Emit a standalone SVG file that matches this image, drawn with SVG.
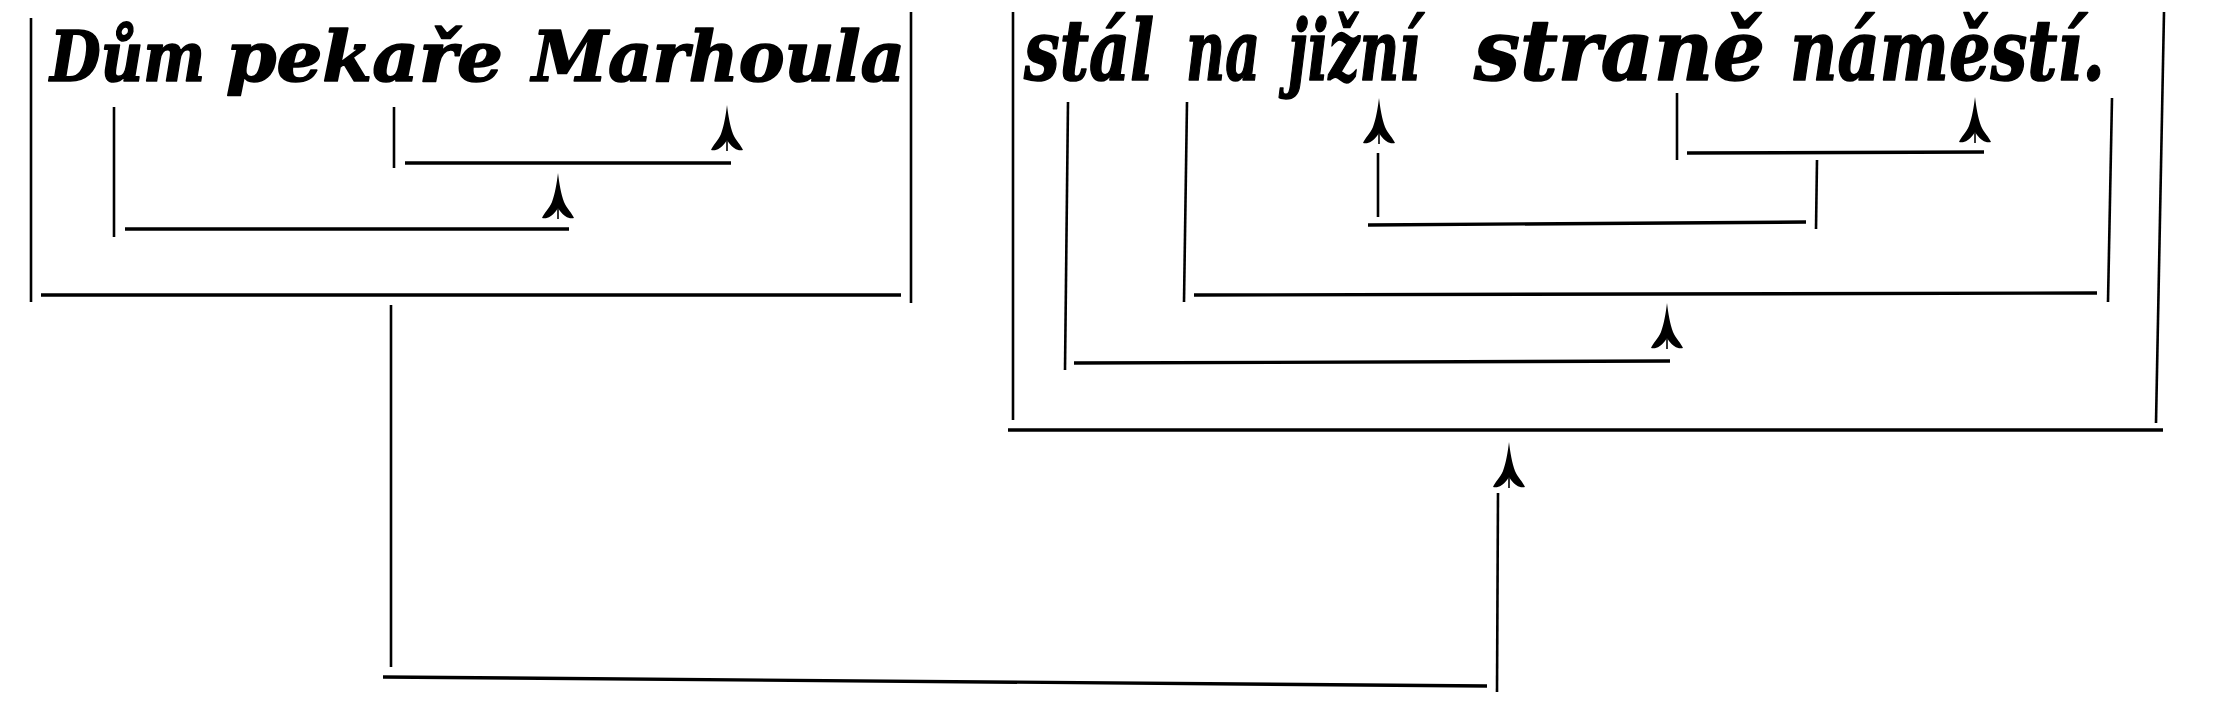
<svg xmlns="http://www.w3.org/2000/svg" width="2221" height="712" viewBox="0 0 2221 712">
<style>
.w{font-family:"DejaVu Serif","Liberation Serif",serif;font-weight:bold;font-style:italic;fill:#000;stroke:#000;stroke-width:1.6;stroke-linejoin:round}
.l1{font-size:70px}
.l2{font-size:84px}
.h{stroke:#000;stroke-width:3.4;fill:none}
.v{stroke:#000;stroke-width:2.6;fill:none}
</style>
<defs>
<g id="arr">
<path d="M0,0 C1.2,10 3,21 6,29 C9,36 14,40 16,45 C11,46.5 6,43 2,38 L0,35 L-2,38 C-6,43 -11,46.5 -16,45 C-14,40 -9,36 -6,29 C-3,21 -1.2,10 0,0 Z" fill="#000"/>
<line x1="0" y1="30" x2="0" y2="46" stroke="#000" stroke-width="1.6"/>
</g>
</defs>
<rect width="2221" height="712" fill="#fff"/>

<g id="node-subject">
<text class="w l1" x="50" y="81" textLength="155" lengthAdjust="spacingAndGlyphs">Dům</text>
<text class="w l1" x="226" y="81" textLength="277" lengthAdjust="spacingAndGlyphs">pekaře</text>
<text class="w l1" x="532" y="81" textLength="373" lengthAdjust="spacingAndGlyphs">Marhoula</text>
<line class="v" x1="31" y1="18" x2="31" y2="302"/>
<line class="v" x1="911" y1="12" x2="911" y2="303"/>
<line class="h" x1="41" y1="295" x2="901" y2="295"/>
</g>

<g id="node-predicate">
<text class="w l2" x="1024" y="80" textLength="130" lengthAdjust="spacingAndGlyphs">stál</text>
<text class="w l2" x="1186" y="80" textLength="74" lengthAdjust="spacingAndGlyphs">na</text>
<text class="w l2" x="1288" y="80" textLength="132" lengthAdjust="spacingAndGlyphs">jižní</text>
<text class="w l2" x="1474" y="80" textLength="291" lengthAdjust="spacingAndGlyphs">straně</text>
<text class="w l2" x="1790" y="80" textLength="315" lengthAdjust="spacingAndGlyphs">náměstí.</text>
<line class="v" x1="1013" y1="12" x2="1013" y2="420"/>
<line class="v" x1="2164" y1="12" x2="2156" y2="423"/>
<line class="h" x1="1008" y1="430" x2="2163" y2="430"/>
</g>

<g id="connectors">
<!-- left group -->
<line class="v" x1="114" y1="107" x2="114" y2="237"/>
<line class="h" x1="125" y1="229" x2="569" y2="229"/>
<use href="#arr" x="558" y="173"/>
<line class="v" x1="394" y1="107" x2="394" y2="168"/>
<line class="h" x1="405" y1="163" x2="731" y2="163"/>
<use href="#arr" x="727" y="105"/>
<!-- right group -->
<line class="v" x1="1068" y1="102" x2="1065" y2="370"/>
<line class="h" x1="1074" y1="363" x2="1670" y2="361"/>
<use href="#arr" x="1667" y="303"/>
<line class="v" x1="1187" y1="102" x2="1184" y2="302"/>
<line class="h" x1="1194" y1="295" x2="2097" y2="293"/>
<line class="v" x1="2112" y1="98" x2="2108" y2="302"/>
<use href="#arr" x="1379" y="98"/>
<line class="v" x1="1378" y1="153" x2="1378" y2="217"/>
<line class="h" x1="1368" y1="225" x2="1806" y2="222"/>
<line class="v" x1="1817" y1="160" x2="1816" y2="229"/>
<line class="v" x1="1677" y1="93" x2="1677" y2="160"/>
<line class="h" x1="1687" y1="153" x2="1984" y2="152"/>
<use href="#arr" x="1975" y="97"/>
<!-- main -->
<line class="v" x1="391" y1="305" x2="391" y2="667"/>
<line class="h" x1="383" y1="677" x2="1487" y2="686"/>
<line class="v" x1="1498" y1="493" x2="1497" y2="692"/>
<use href="#arr" x="1509" y="442"/>
</g>
</svg>
